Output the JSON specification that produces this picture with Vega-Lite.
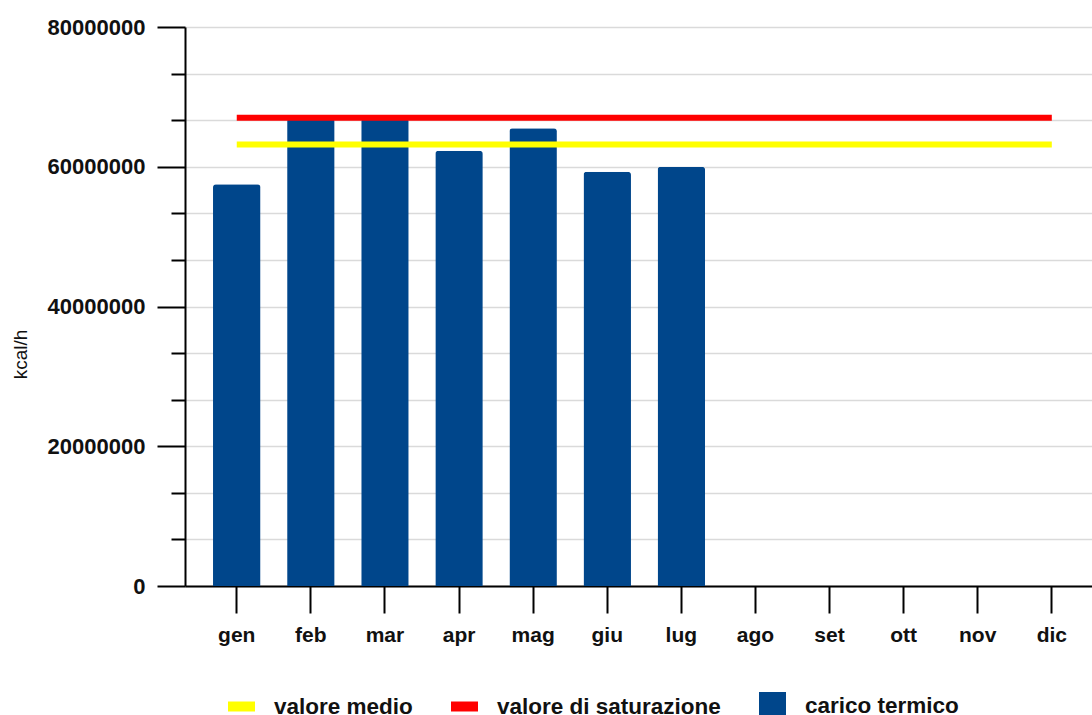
{
  "$schema": "https://vega.github.io/schema/vega-lite/v6.json",
  "width": 907,
  "height": 559,
  "autosize": "none",
  "padding": {"left": 185, "top": 27, "right": 0, "bottom": 129},
  "background": "white",
  "config": {"view": {"stroke": null}, "font": "Liberation Sans"},
  "data": {
    "values": [
      {"mese": "gen", "carico": 57500000, "medio": 63200000, "saturazione": 67000000},
      {"mese": "feb", "carico": 66900000, "medio": 63200000, "saturazione": 67000000},
      {"mese": "mar", "carico": 66900000, "medio": 63200000, "saturazione": 67000000},
      {"mese": "apr", "carico": 62300000, "medio": 63200000, "saturazione": 67000000},
      {"mese": "mag", "carico": 65500000, "medio": 63200000, "saturazione": 67000000},
      {"mese": "giu", "carico": 59300000, "medio": 63200000, "saturazione": 67000000},
      {"mese": "lug", "carico": 60000000, "medio": 63200000, "saturazione": 67000000},
      {"mese": "ago", "carico": null, "medio": 63200000, "saturazione": 67000000},
      {"mese": "set", "carico": null, "medio": 63200000, "saturazione": 67000000},
      {"mese": "ott", "carico": null, "medio": 63200000, "saturazione": 67000000},
      {"mese": "nov", "carico": null, "medio": 63200000, "saturazione": 67000000},
      {"mese": "dic", "carico": null, "medio": 63200000, "saturazione": 67000000}
    ]
  },
  "encoding": {
    "x": {
      "field": "mese",
      "type": "ordinal",
      "sort": ["gen", "feb", "mar", "apr", "mag", "giu", "lug", "ago", "set", "ott", "nov", "dic"],
      "scale": {"paddingInner": 0.359, "paddingOuter": 0.3, "align": 0.63},
      "axis": {
        "title": null,
        "labelAngle": 0,
        "tickSize": 27,
        "tickWidth": 2,
        "tickColor": "#000",
        "domainColor": "#000",
        "domainWidth": 2,
        "labelFontSize": 21,
        "labelFontWeight": "bold",
        "labelColor": "#111",
        "labelPadding": 11,
        "grid": false
      }
    }
  },
  "layer": [
    {
      "mark": {"type": "bar", "cornerRadiusTopLeft": 3, "cornerRadiusTopRight": 3},
      "encoding": {
        "y": {
          "field": "carico",
          "type": "quantitative",
          "scale": {"domain": [0, 80000000], "nice": false, "zero": true},
          "axis": {
            "values": [0, 6666667, 13333333, 20000000, 26666667, 33333333, 40000000, 46666667, 53333333, 60000000, 66666667, 73333333, 80000000],
            "labelExpr": "datum.value % 20000000 === 0 ? format(datum.value, 'd') : ''",
            "labelOverlap": false,
            "tickSize": {"condition": {"test": "datum.value % 20000000 !== 0", "value": 14}, "value": 28},
            "tickColor": "#000",
            "tickWidth": 2,
            "domainColor": "#000",
            "domainWidth": 2,
            "grid": true,
            "gridColor": "#dadada",
            "gridWidth": 1.5,
            "labelFontSize": 22,
            "labelFontWeight": "bold",
            "labelColor": "#111",
            "labelPadding": 12,
            "title": "kcal/h",
            "titleFontSize": 19,
            "titleFontWeight": "normal",
            "titleColor": "#111",
            "titleAngle": -90,
            "titleX": -165,
            "titleY": 327,
            "titleAlign": "center",
            "titleBaseline": "middle"
          }
        },
        "color": {
          "datum": "carico termico",
          "scale": {
            "domain": ["valore medio", "valore di saturazione", "carico termico"],
            "range": ["#ffff00", "#ff0000", "#00468b"]
          },
          "legend": {
            "orient": "none",
            "legendX": 43,
            "legendY": 665,
            "direction": "horizontal",
            "title": null,
            "padding": 0,
            "symbolSize": 729,
            "symbolStrokeWidth": 0,
            "symbolOpacity": 1,
            "labelFontSize": 22.5,
            "labelFontWeight": "bold",
            "labelColor": "#111",
            "labelOffset": 19,
            "columnPadding": 38,
            "labelLimit": 400,
            "encode": {
              "symbols": {
                "update": {
                  "shape": {"signal": "datum.value === 'carico termico' ? 'M-1,-1H1V1H-1Z' : 'M-1,-0.37H1V0.37H-1Z'"}
                }
              }
            }
          }
        }
      }
    },
    {
      "mark": {"type": "line", "color": "#ffff00", "strokeWidth": 6, "strokeCap": "butt"},
      "encoding": {"y": {"field": "medio", "type": "quantitative"}}
    },
    {
      "mark": {"type": "line", "color": "#ff0000", "strokeWidth": 6, "strokeCap": "butt"},
      "encoding": {"y": {"field": "saturazione", "type": "quantitative"}}
    }
  ]
}
